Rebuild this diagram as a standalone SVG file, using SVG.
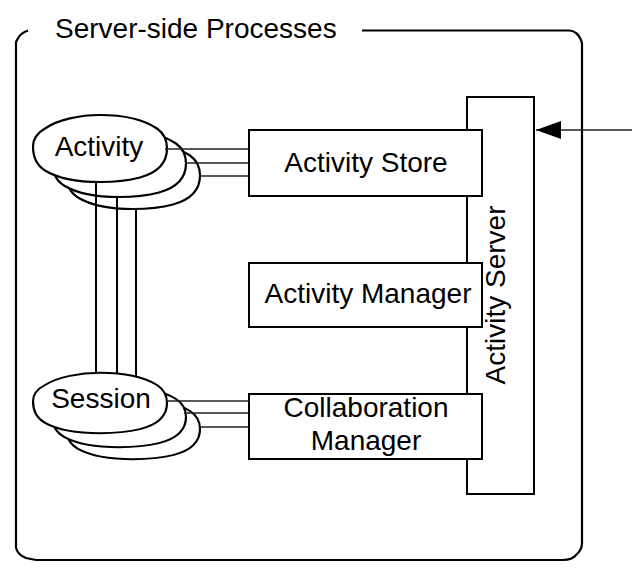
<svg xmlns="http://www.w3.org/2000/svg" xmlns:xlink="http://www.w3.org/1999/xlink" width="632" height="585" viewBox="0 0 632 585">
<style>
  .t { font-family: "Liberation Sans", Arial, sans-serif; font-size: 28px; fill: #000; }
  .box { fill: #fff; stroke: #000; stroke-width: 2; }
  .blob { fill: #fff; stroke: #000; stroke-width: 2.2; vector-effect: non-scaling-stroke; }
  .conn { stroke: #222; stroke-width: 1.4; fill: none; }
  .vconn { stroke: #000; stroke-width: 2; fill: none; }
  .frame { fill: none; stroke: #000; stroke-width: 2.2; }
</style>
<defs>
  <path id="blobshape" d="M -67,-2 C -67,-10 -62,-16 -55,-20 C -42,-29 -20,-33.5 0,-33.5 C 25,-33.5 45,-28 57,-20 C 64,-15 67,-8 67,0 C 67,14 58,24 40,29 C 25,33 12,33.5 0,33.5 C -22,33.5 -42,30 -55,22 C -63,17 -67,8 -67,-2 Z"/>
  <marker id="arrow" viewBox="0 0 25 18" refX="25" refY="9" markerWidth="25" markerHeight="18" markerUnits="userSpaceOnUse" orient="auto">
    <path d="M 0,0 L 25,9 L 0,18 Z" fill="#000"/>
  </marker>
</defs>

<g id="frame">
  <path class="frame" d="M 28,30.5 Q 20,33 17,40 L 16,42 V 548 Q 18,555 26,558 L 36,560 H 563 Q 572,560 576,555 Q 582,550 582,543 V 43 Q 580,36 576,33 Q 573,30.5 569,30.5 H 362"/>
  <text class="t" x="55" y="38">Server-side Processes</text>
</g>

<g id="activity-server">
  <rect class="box" x="467" y="97" width="67" height="397"/>
  <text class="t" transform="translate(505,295) rotate(-90)" text-anchor="middle">Activity Server</text>
</g>

<g id="activity-store">
  <rect class="box" x="249" y="130" width="233" height="66"/>
  <text class="t" x="366" y="172" text-anchor="middle">Activity Store</text>
</g>

<g id="activity-manager">
  <rect class="box" x="249" y="263" width="233" height="64"/>
  <text class="t" x="368" y="303" text-anchor="middle">Activity Manager</text>
</g>

<g id="collaboration-manager">
  <rect class="box" x="249" y="394" width="233" height="65"/>
  <text class="t" x="366" y="417" text-anchor="middle">Collaboration</text>
  <text class="t" x="366" y="450" text-anchor="middle">Manager</text>
</g>

<g id="connectors">
  <line class="vconn" x1="96" y1="182" x2="96" y2="400"/>
  <line class="vconn" x1="117" y1="197" x2="117" y2="400"/>
  <line class="vconn" x1="136" y1="209" x2="136" y2="400"/>
</g>

<g id="session">
  <use href="#blobshape" xlink:href="#blobshape" class="blob" transform="translate(133,429) scale(1,0.9)"/>
  <use href="#blobshape" xlink:href="#blobshape" class="blob" transform="translate(119,417) scale(1,0.9)"/>
  <use href="#blobshape" xlink:href="#blobshape" class="blob" transform="translate(100,403) scale(1,0.9)"/>
  <text class="t" x="101" y="408" text-anchor="middle">Session</text>
</g>

<g id="activity">
  <use href="#blobshape" xlink:href="#blobshape" class="blob" transform="translate(133,175.5)"/>
  <use href="#blobshape" xlink:href="#blobshape" class="blob" transform="translate(119,163.5)"/>
  <use href="#blobshape" xlink:href="#blobshape" class="blob" transform="translate(100,148.5)"/>
  <text class="t" x="99" y="156" text-anchor="middle">Activity</text>
</g>

<g id="connectors-2">
  <line class="vconn" x1="96" y1="182" x2="96" y2="215"/>
  <line class="vconn" x1="117" y1="197" x2="117" y2="215"/>
  <line class="conn" x1="165" y1="149" x2="249" y2="149"/>
  <line class="conn" x1="185" y1="163" x2="249" y2="163"/>
  <line class="conn" x1="199" y1="176" x2="249" y2="176"/>
  <line class="conn" x1="166" y1="401" x2="249" y2="401"/>
  <line class="conn" x1="184" y1="413" x2="249" y2="413"/>
  <line class="conn" x1="199" y1="427" x2="249" y2="427"/>
  <line class="conn" x1="632" y1="130" x2="536" y2="130" marker-end="url(#arrow)"/>
</g>
</svg>
